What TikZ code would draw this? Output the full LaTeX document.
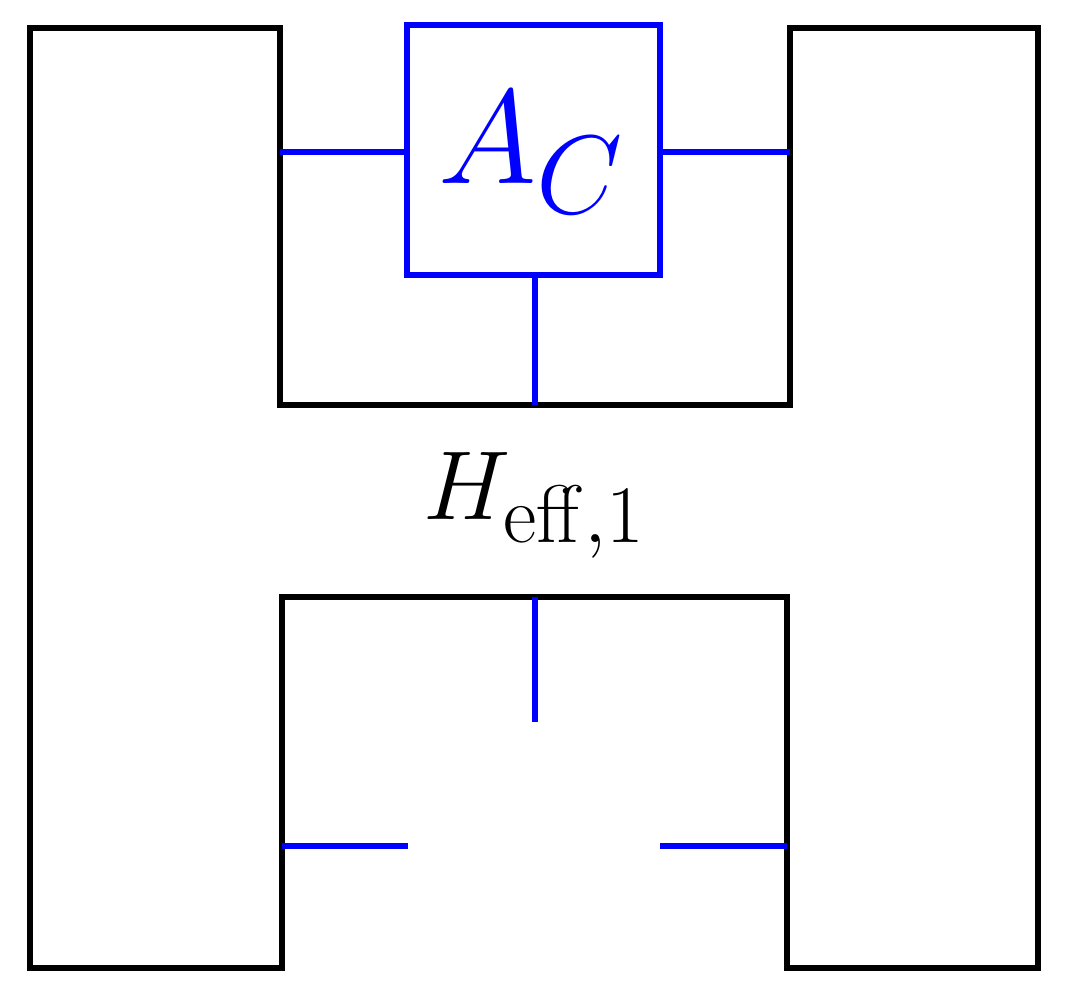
\documentclass[tikz,border=0pt]{standalone}
\begin{document}
\begin{tikzpicture}[x=0.01cm,y=-0.01cm,
  blk/.style={draw=black,line width=1.5pt,line join=miter},
  blu/.style={draw=blue,line width=1.45pt},
  bigtxt/.style={text=blue,font=\Huge,scale=1.53,inner sep=0pt},
  midtxt/.style={font=\Huge,scale=1.12,inner sep=0pt}]
\useasboundingbox (0,0) rectangle (1073,1000);
% H outline
\draw[blk] (30,28) -- (280,28) -- (280,405) -- (790,405) -- (790,28) -- (1038,28)
  -- (1038,968) -- (787,968) -- (787,597) -- (282,597) -- (282,968) -- (30,968) -- cycle;
% box
\draw[blu] (407,25) rectangle (660,275);
\node[bigtxt] (ac) at (532,153) {$A_C$};
\coordinate (lt) at (280,152);
\coordinate (bl) at (407,152);
\coordinate (br) at (660,152);
\coordinate (rt) at (790,152);
\coordinate (bb) at (535,275);
\coordinate (tb) at (535,405);
\draw[blu] (lt) -- (bl);
\draw[blu] (br) -- (rt);
\draw[blu] (bb) -- (tb);
% label
\node[midtxt] (heff) at (535,505) {$H_{\mathrm{eff},1}$};
% lower stubs
\coordinate (s1) at (535,597);
\coordinate (s2) at (535,722);
\coordinate (s3) at (282,846);
\coordinate (s4) at (408,846);
\coordinate (s5) at (660,846);
\coordinate (s6) at (787,846);
\draw[blu] (s1) -- (s2);
\draw[blu] (s3) -- (s4);
\draw[blu] (s5) -- (s6);
\end{tikzpicture}
\end{document}
